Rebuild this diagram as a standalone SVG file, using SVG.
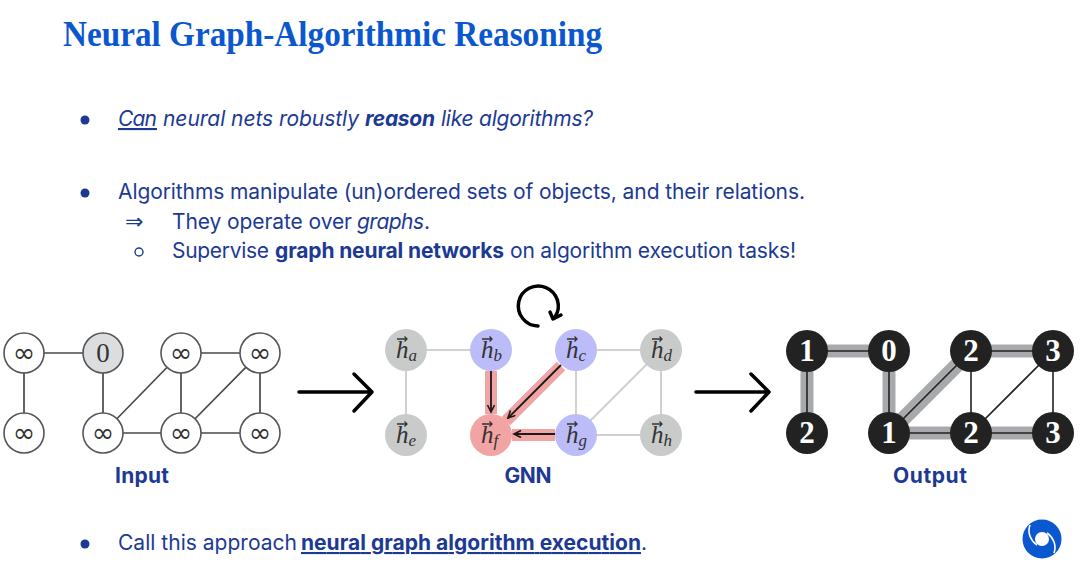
<svg xmlns="http://www.w3.org/2000/svg" width="1080" height="572" viewBox="0 0 1080 572">
<defs>
<style>
text{font-family:"Inter","Open Sans","Liberation Sans",sans-serif}
.title{font-family:"Liberation Serif",serif;font-weight:700;font-size:35px;fill:#0b57d0}
.body{font-size:21px;fill:#1c3a94}
.cap{font-size:21px;font-weight:700;fill:#1c3a94;text-anchor:middle}
.dot{fill:#1c3a94}
.b{font-weight:700}.i{font-style:italic}.u{text-decoration:underline}
.in{fill:#fff;stroke:#555;stroke-width:1.6}
.inl{stroke:#4a4a4a;stroke-width:1.7;fill:none}
.m{font-family:"DejaVu Sans",sans-serif;font-size:27px;fill:#333;text-anchor:middle}
.z{font-family:"Liberation Serif",serif;font-size:27px;fill:#333;text-anchor:middle}
.gl{stroke:#d0d0d0;stroke-width:2;fill:none}
.hi{stroke:#f2a3a3;stroke-width:12;fill:none}
.ga{stroke:#1a1a1a;stroke-width:1.8;fill:none;marker-end:url(#ah)}
.h{font-family:"Liberation Serif",serif;font-style:italic;font-size:25px;fill:#333}
.sub{font-size:17px}
.v{stroke:#333;stroke-width:1.3;fill:none}
.ol{stroke:#a8a9ad;stroke-width:13;fill:none}
.ok{stroke:#222;stroke-width:1.6;fill:none}
.on{fill:#222}
.ot{font-family:"Liberation Serif",serif;font-weight:700;font-size:31px;fill:#fff;text-anchor:middle}
.big{stroke:#000;stroke-width:3.5;fill:none;stroke-linecap:round;stroke-linejoin:round}
</style>
<marker id="ah" markerWidth="10" markerHeight="10" refX="8" refY="4" orient="auto" markerUnits="userSpaceOnUse"><path d="M1,0.5L8,4L1,7.5" fill="none" stroke="#1a1a1a" stroke-width="1.6"/></marker>
<path id="vec" d="M-5,0H5M2.5,-2.5L5,0L2.5,2.5"/>
</defs>
<rect width="1080" height="572" fill="#fff"/>
<text class="title" x="63" y="46" textLength="539" lengthAdjust="spacingAndGlyphs">Neural Graph-Algorithmic Reasoning</text>
<g id="bullets">
<circle class="dot" cx="85" cy="120" r="4.5"/>
<text class="body i u" x="118" y="126" textLength="39">Can</text>
<text class="body i" x="163" y="126" textLength="196">neural nets robustly</text>
<text class="body i b" x="365" y="126" textLength="70">reason</text>
<text class="body i" x="441" y="126" textLength="152">like algorithms?</text>
<circle class="dot" cx="85" cy="193" r="4.5"/>
<text class="body" x="118" y="199" textLength="687">Algorithms manipulate (un)ordered sets of objects, and their relations.</text>
<text style="font-family:'DejaVu Sans',sans-serif;font-size:22px;fill:#1c3a94" x="125" y="229">⇒</text>
<text class="body" x="172" y="229" textLength="180">They operate over</text>
<text class="body i" x="357" y="229" textLength="67">graphs</text>
<text class="body" x="424" y="229">.</text>
<circle cx="139" cy="252" r="4" fill="none" stroke="#1c3a94" stroke-width="1.4"/>
<text class="body" x="172" y="258" textLength="97">Supervise</text>
<text class="body b" x="275" y="258" textLength="229">graph neural networks</text>
<text class="body" x="510" y="258" textLength="286">on algorithm execution tasks!</text>
<circle class="dot" cx="85" cy="544" r="4.5"/>
<text class="body" x="118" y="550" textLength="179">Call this approach</text>
<text class="body b u" x="301" y="550" textLength="340">neural graph algorithm execution</text>
<text class="body" x="641" y="550">.</text>
</g>
<g id="connectors">
<path class="inl" d="M24,353H103M24,353V433M103,353V433M181,353H260M103,433H260M103,433L181,353M181,353V433M181,433L260,353M260,353V433"/>
<path class="big" d="M299,392H372M354,374L372,392L354,411"/>
<path class="gl" d="M406,350H491M406,350V435M576,350H661M576,350V435M576,435L661,350M576,435H661M661,350V435"/>
<path class="hi" d="M491,371V414M561,366L506,421M555,435H512"/>
<path class="ga" d="M491,371V412"/>
<path class="ga" d="M561,365L508,418"/>
<path class="ga" d="M555,434H514"/>
<path class="big" d="M538,326A20,20 0 1 1 555,317M550,312L553,319L561,315"/>
<path class="big" d="M696,392H769M751,374L769,392L751,411"/>
<path class="ol" d="M807,351H889M807,351V433M889,351V433M971,351H1053M889,433H1053"/>
<path class="ol" style="stroke-width:15" d="M889,433L971,351"/>
<path class="ok" d="M807,351H889M807,351V433M889,351V433M889,433L971,351M971,351H1053M889,433H1053M971,351V433M971,433L1053,351M1053,351V433"/>
</g>
<g id="input-graph">
<g id="in-a"><circle class="in" cx="24" cy="353" r="20"/><text class="m" x="24" y="362">∞</text></g>
<g id="in-b"><circle class="in" cx="103" cy="353" r="20" style="fill:#dcdddf"/><text class="z" x="103" y="362">0</text></g>
<g id="in-c"><circle class="in" cx="181" cy="353" r="20"/><text class="m" x="181" y="362">∞</text></g>
<g id="in-d"><circle class="in" cx="260" cy="353" r="20"/><text class="m" x="260" y="362">∞</text></g>
<g id="in-e"><circle class="in" cx="24" cy="433" r="20"/><text class="m" x="24" y="442">∞</text></g>
<g id="in-f"><circle class="in" cx="103" cy="433" r="20"/><text class="m" x="103" y="442">∞</text></g>
<g id="in-g"><circle class="in" cx="181" cy="433" r="20"/><text class="m" x="181" y="442">∞</text></g>
<g id="in-h"><circle class="in" cx="260" cy="433" r="20"/><text class="m" x="260" y="442">∞</text></g>
</g>
<text class="cap" x="142" y="483" textLength="54">Input</text>
<g id="gnn-graph">
<g id="h-a"><circle cx="406" cy="350" r="21" fill="#c9caca"/><text class="h" x="396" y="358">h<tspan class="sub" dy="3">a</tspan></text><use href="#vec" class="v" x="402" y="339"/></g>
<g id="h-b"><circle cx="491" cy="350" r="21" fill="#bcbdf8"/><text class="h" x="481" y="358">h<tspan class="sub" dy="3">b</tspan></text><use href="#vec" class="v" x="487" y="339"/></g>
<g id="h-c"><circle cx="576" cy="350" r="21" fill="#bcbdf8"/><text class="h" x="566" y="358">h<tspan class="sub" dy="3">c</tspan></text><use href="#vec" class="v" x="572" y="339"/></g>
<g id="h-d"><circle cx="661" cy="350" r="21" fill="#c9caca"/><text class="h" x="651" y="358">h<tspan class="sub" dy="3">d</tspan></text><use href="#vec" class="v" x="657" y="339"/></g>
<g id="h-e"><circle cx="406" cy="435" r="21" fill="#c9caca"/><text class="h" x="396" y="443">h<tspan class="sub" dy="3">e</tspan></text><use href="#vec" class="v" x="402" y="424"/></g>
<g id="h-f"><circle cx="491" cy="435" r="21" fill="#f2a3a3"/><text class="h" x="481" y="443">h<tspan class="sub" dy="3">f</tspan></text><use href="#vec" class="v" x="487" y="424"/></g>
<g id="h-g"><circle cx="576" cy="435" r="21" fill="#bcbdf8"/><text class="h" x="566" y="443">h<tspan class="sub" dy="3">g</tspan></text><use href="#vec" class="v" x="572" y="424"/></g>
<g id="h-h"><circle cx="661" cy="435" r="21" fill="#c9caca"/><text class="h" x="651" y="443">h<tspan class="sub" dy="3">h</tspan></text><use href="#vec" class="v" x="657" y="424"/></g>
</g>
<text class="cap" x="528" y="483" textLength="47">GNN</text>
<g id="output-graph">
<g id="o-a"><circle class="on" cx="807" cy="351" r="21"/><text class="ot" x="807" y="361">1</text></g>
<g id="o-b"><circle class="on" cx="889" cy="351" r="21"/><text class="ot" x="889" y="361">0</text></g>
<g id="o-c"><circle class="on" cx="971" cy="351" r="21"/><text class="ot" x="971" y="361">2</text></g>
<g id="o-d"><circle class="on" cx="1053" cy="351" r="21"/><text class="ot" x="1053" y="361">3</text></g>
<g id="o-e"><circle class="on" cx="807" cy="433" r="21"/><text class="ot" x="807" y="443">2</text></g>
<g id="o-f"><circle class="on" cx="889" cy="433" r="21"/><text class="ot" x="889" y="443">1</text></g>
<g id="o-g"><circle class="on" cx="971" cy="433" r="21"/><text class="ot" x="971" y="443">2</text></g>
<g id="o-h"><circle class="on" cx="1053" cy="433" r="21"/><text class="ot" x="1053" y="443">3</text></g>
</g>
<text class="cap" x="930" y="483" textLength="74">Output</text>
<g id="logo">
<circle cx="1042" cy="539" r="19.5" fill="#0b57d0"/>
<circle cx="1042" cy="539" r="7" fill="#fff"/>
<path d="M1030,525C1027,533 1031,541 1037,545M1054,553C1057,545 1053,537 1047,533" fill="none" stroke="#fff" stroke-width="1.6"/>
</g>
</svg>
